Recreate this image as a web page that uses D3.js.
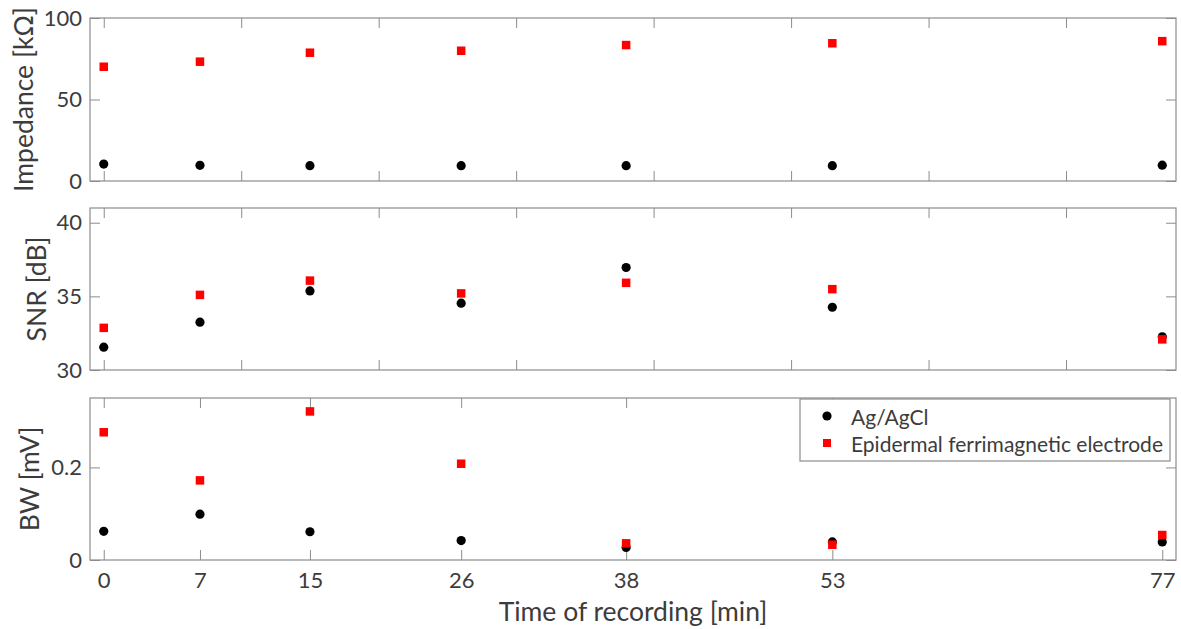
<!DOCTYPE html>
<html>
<head>
<meta charset="utf-8">
<script src="https://cdn.jsdelivr.net/npm/d3@7"></script>
<style>
  html, body { margin: 0; padding: 0; background: #fff; }
  svg { display: block; }
  text { font-family: Lato, "Open Sans", sans-serif; fill: #3c3c3c; }
</style>
</head>
<body>
<svg id="chart" width="1181" height="629"></svg>
<script>
// ---- data ----
const timeMin = [0, 7, 15, 26, 38, 53, 77];
const seriesNames = ["Ag/AgCl", "Epidermal ferrimagnetic electrode"];
const impAg  = [10.4, 9.6, 9.4, 9.4, 9.4, 9.4, 9.7];
const impEpi = [70.1, 73.2, 78.7, 79.9, 83.4, 84.5, 85.8];
const snrAg  = [31.55, 33.25, 35.37, 34.54, 36.96, 34.26, 32.25];
const snrEpi = [32.86, 35.10, 36.07, 35.20, 35.92, 35.49, 32.08];
const bwAg   = [0.062, 0.099, 0.061, 0.042, 0.027, 0.039, 0.039];
const bwEpi  = [0.276, 0.172, 0.321, 0.208, 0.036, 0.033, 0.054];
const impTicks = [0, 50, 100];
const snrTicks = [30, 35, 40];
const bwTicks = [0, 0.2];
const gridXTicks = [0, 10, 20, 30, 40, 50, 60, 70];
const yLabels = ["Impedance [kΩ]", "SNR [dB]", "BW [mV]"];
const xLabel = "Time of recording [min]";

// ---- layout ----
const svg = d3.select("#chart");
const left = 90, right = 1176;
const lineColor = "#8c8c8c";
const titleSize = 26.5;
const x = d3.scaleLinear().domain([-1, 78]).range([left, right]);

const panels = [
  { top: 18,  bottom: 181, domain: [0, 100],  ticks: impTicks, fmt: d => d, ag: impAg, epi: impEpi, label: yLabels[0], labelX: 23, xt: gridXTicks, showX: false },
  { top: 208, bottom: 370, domain: [30, 41],  ticks: snrTicks, fmt: d => d, ag: snrAg, epi: snrEpi, label: yLabels[1], labelX: 36, xt: gridXTicks, showX: false },
  { top: 398, bottom: 560, domain: [0, 0.35], ticks: bwTicks,  fmt: d => d === 0 ? "0" : d3.format(".1f")(d), ag: bwAg, epi: bwEpi, label: yLabels[2], labelX: 29, xt: timeMin, showX: true }
];

function styleAxis(g) {
  g.select(".domain").remove();
  g.selectAll(".tick line").attr("stroke", lineColor).attr("stroke-width", 1);
  g.selectAll(".tick text").style("font-family", "Lato, 'Open Sans', sans-serif").attr("fill", "#3c3c3c");
}

panels.forEach(p => {
  const y = d3.scaleLinear().domain(p.domain).range([p.bottom, p.top]);
  const g = svg.append("g");

  g.append("rect").attr("x", left).attr("y", p.top).attr("width", right - left).attr("height", p.bottom - p.top)
    .attr("fill", "#fff");

  const bx = g.append("g").attr("transform", `translate(0,${p.bottom})`)
    .call(d3.axisBottom(x).tickValues(p.xt).tickSizeInner(-10).tickSizeOuter(0).tickPadding(12)
      .tickFormat(p.showX ? (d => d) : () => ""));
  styleAxis(bx);
  bx.selectAll(".tick text").attr("font-size", 22);
  const tx = g.append("g").attr("transform", `translate(0,${p.top})`)
    .call(d3.axisTop(x).tickValues(p.xt).tickSizeInner(-10).tickSizeOuter(0).tickFormat(() => ""));
  styleAxis(tx);
  const ly = g.append("g").attr("transform", `translate(${left},0)`)
    .call(d3.axisLeft(y).tickValues(p.ticks).tickSizeInner(-10).tickSizeOuter(0).tickPadding(8).tickFormat(p.fmt));
  styleAxis(ly);
  ly.selectAll(".tick text").attr("font-size", 22);
  const ry = g.append("g").attr("transform", `translate(${right},0)`)
    .call(d3.axisRight(y).tickValues(p.ticks).tickSizeInner(-10).tickSizeOuter(0).tickFormat(() => ""));
  styleAxis(ry);

  g.append("rect").attr("x", left).attr("y", p.top).attr("width", right - left).attr("height", p.bottom - p.top)
    .attr("fill", "none").attr("stroke", lineColor).attr("stroke-width", 1.2);

  g.append("text")
    .attr("transform", `translate(${p.labelX},${(p.top + p.bottom) / 2}) rotate(-90)`)
    .attr("text-anchor", "middle").attr("dominant-baseline", "central")
    .attr("font-size", titleSize).text(p.label);

  g.append("g").selectAll("circle").data(timeMin).join("circle")
    .attr("cx", (d) => x(d)).attr("cy", (d, i) => y(p.ag[i])).attr("r", 4.6).attr("fill", "#000");
  const s = 8.5;
  g.append("g").selectAll("rect").data(timeMin).join("rect")
    .attr("x", (d) => x(d) - s / 2).attr("y", (d, i) => y(p.epi[i]) - s / 2)
    .attr("width", s).attr("height", s).attr("fill", "#ff0000");

  if (p.showX) {
    svg.append("text").attr("x", (left + right) / 2).attr("y", 621)
      .attr("text-anchor", "middle").attr("font-size", titleSize).text(xLabel);

    const lg = svg.append("g");
    lg.append("rect").attr("x", 800).attr("y", p.top + 1).attr("width", 370).attr("height", 62)
      .attr("fill", "#fff").attr("stroke", lineColor).attr("stroke-width", 1.2);
    const rows = [p.top + 18, p.top + 45];
    lg.append("circle").attr("cx", 827).attr("cy", rows[0]).attr("r", 4.6).attr("fill", "#000");
    lg.append("rect").attr("x", 827 - 4).attr("y", rows[1] - 4).attr("width", 8).attr("height", 8).attr("fill", "#ff0000");
    seriesNames.forEach((n, i) => {
      lg.append("text").attr("x", 851).attr("y", rows[i]).attr("dominant-baseline", "central")
        .attr("font-size", 21).text(n);
    });
  }
});
</script>
</body>
</html>
